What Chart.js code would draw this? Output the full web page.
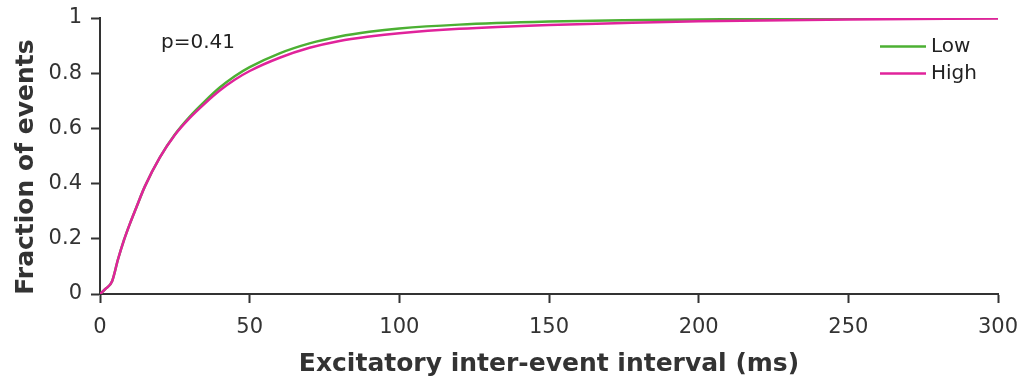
<!DOCTYPE html>
<html>
<head>
<meta charset="utf-8">
<script src="https://cdn.jsdelivr.net/npm/chart.js@4/dist/chart.umd.min.js"></script>
<style>
  html, body { margin: 0; padding: 0; background: #fff; }
  canvas { display: block; }
</style>
</head>
<body>
<canvas id="cdfChart" width="1026" height="381"></canvas>
<script>
// cumulative distribution of inter-event intervals
const intervalMs = [0, 2, 4, 6, 8, 10, 12, 15, 20, 25, 30, 35, 40, 45, 50, 60, 70, 80, 90, 100, 120, 150, 175, 200, 250, 300];
const lowFrac = [0, 0.02, 0.045, 0.125, 0.195, 0.255, 0.31, 0.39, 0.495, 0.578, 0.643, 0.698, 0.748, 0.789, 0.822, 0.872, 0.908, 0.933, 0.95, 0.962, 0.976, 0.987, 0.992, 0.995, 0.998, 1.0];
const highFrac = [0, 0.02, 0.045, 0.125, 0.195, 0.255, 0.31, 0.39, 0.495, 0.576, 0.638, 0.69, 0.737, 0.776, 0.808, 0.856, 0.892, 0.917, 0.933, 0.945, 0.961, 0.975, 0.982, 0.988, 0.995, 0.998];

const seriesNames = ["Low", "High"];
const seriesColors = ["#4cb033", "#e0239b"];
const xTicks = [0, 50, 100, 150, 200, 250, 300];
const yTicks = [0, 0.2, 0.4, 0.6, 0.8, 1];
const pValueText = "p=0.41";
const xTitle = "Excitatory inter-event interval (ms)";
const yTitle = "Fraction of events";

const axisColor = "#333";
const fontFamily = "'DejaVu Sans', sans-serif";

function toPoints(values) {
  return intervalMs.map((x, i) => ({ x: x, y: values[i] }));
}

// legend, p value and the rotated y title
const annotations = {
  id: "annotations",
  afterDatasetsDraw(chart) {
    const ctx = chart.ctx;
    ctx.save();
    ctx.font = "20px " + fontFamily;
    ctx.fillStyle = "#222";
    ctx.textBaseline = "middle";
    ctx.textAlign = "left";
    ctx.fillText(pValueText, 161, 43);

    seriesNames.forEach((name, i) => {
      const y = 46.5 + i * 27;
      ctx.strokeStyle = seriesColors[i];
      ctx.lineWidth = 2.5;
      ctx.beginPath();
      ctx.moveTo(880, y);
      ctx.lineTo(926, y);
      ctx.stroke();
      ctx.fillText(name, 931, y);
    });

    ctx.translate(33, 167);
    ctx.rotate(-Math.PI / 2);
    ctx.font = "bold 25px " + fontFamily;
    ctx.fillStyle = axisColor;
    ctx.textAlign = "center";
    ctx.textBaseline = "alphabetic";
    ctx.fillText(yTitle, 0, 0);
    ctx.restore();
  },
};

const ctx = document.getElementById("cdfChart").getContext("2d");

new Chart(ctx, {
  type: "line",
  data: {
    datasets: [
      {
        label: seriesNames[0],
        data: toPoints(lowFrac),
        borderColor: seriesColors[0],
        borderWidth: 2.5,
        order: 2,
      },
      {
        label: seriesNames[1],
        data: toPoints(highFrac),
        borderColor: seriesColors[1],
        borderWidth: 2.5,
        order: 1,
      },
    ],
  },
  plugins: [annotations],
  options: {
    responsive: false,
    animation: false,
    layout: { padding: { top: 18, right: 28, left: 0, bottom: 0 } },
    elements: {
      point: { radius: 0 },
      line: { cubicInterpolationMode: "monotone", fill: false },
    },
    plugins: {
      legend: { display: false },
      tooltip: { enabled: false },
    },
    scales: {
      x: {
        type: "linear",
        min: 0,
        max: 300,
        afterBuildTicks(scale) {
          scale.ticks = xTicks.map((v) => ({ value: v }));
        },
        afterFit(scale) {
          scale.height = 87;
          scale.paddingLeft = 0;
          scale.paddingRight = 0;
        },
        ticks: {
          color: axisColor,
          font: { family: fontFamily, size: 21 },
          padding: 12,
          maxRotation: 0,
        },
        grid: {
          drawOnChartArea: false,
          drawTicks: true,
          tickLength: 9,
          tickColor: axisColor,
          tickWidth: 2,
        },
        border: { color: axisColor, width: 2 },
        title: {
          display: true,
          text: xTitle,
          color: axisColor,
          font: { family: fontFamily, size: 25, weight: "bold" },
          padding: { top: 0, bottom: 2 },
        },
      },
      y: {
        min: 0,
        max: 1,
        afterBuildTicks(scale) {
          scale.ticks = yTicks.map((v) => ({ value: v }));
        },
        afterFit(scale) {
          scale.width = 100;
          scale.paddingTop = 0;
          scale.paddingBottom = 0;
        },
        ticks: {
          color: axisColor,
          font: { family: fontFamily, size: 21 },
          padding: 9,
          callback: (v) => String(+v.toFixed(1)),
        },
        grid: {
          drawOnChartArea: false,
          drawTicks: true,
          tickLength: 9,
          tickColor: axisColor,
          tickWidth: 2,
        },
        border: { color: axisColor, width: 2 },
      },
    },
  },
});
</script>
</body>
</html>
